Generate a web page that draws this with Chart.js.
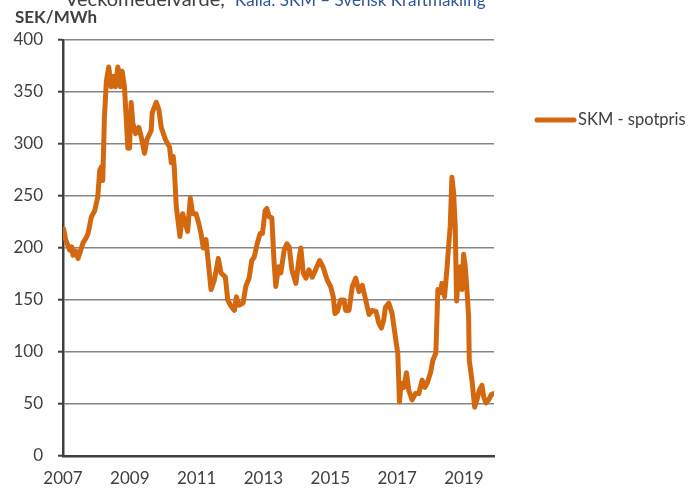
<!DOCTYPE html>
<html>
<head>
<meta charset="utf-8">
<script src="https://cdn.jsdelivr.net/npm/chart.js@4.4.0/dist/chart.umd.min.js"></script>
<style>
  html, body { margin: 0; padding: 0; background: #ffffff; }
  #wrap { position: relative; width: 699px; height: 490px; }
</style>
</head>
<body>
<div id="wrap"><canvas id="c" width="699" height="490"></canvas></div>
<script>
// Weekly average spot price, SEK/MWh (time as decimal year)
const weeks = [
  2007.02, 2007.08, 2007.20, 2007.26, 2007.30, 2007.38, 2007.45, 2007.52, 2007.60, 2007.68,
  2007.75, 2007.85, 2007.95, 2008.04, 2008.10, 2008.15, 2008.19, 2008.24, 2008.30, 2008.37,
  2008.44, 2008.52, 2008.57, 2008.64, 2008.69, 2008.72, 2008.77, 2008.84, 2008.89, 2008.94,
  2008.99, 2009.04, 2009.09, 2009.17, 2009.27, 2009.34, 2009.44, 2009.51, 2009.64, 2009.67,
  2009.79, 2009.87, 2009.94, 2010.07, 2010.19, 2010.24, 2010.30, 2010.33, 2010.39, 2010.50,
  2010.58, 2010.66, 2010.73, 2010.81, 2010.88, 2010.98, 2011.06, 2011.13, 2011.20, 2011.28,
  2011.38, 2011.43, 2011.53, 2011.65, 2011.73, 2011.86, 2011.93, 2012.03, 2012.13, 2012.19,
  2012.27, 2012.39, 2012.47, 2012.57, 2012.65, 2012.72, 2012.82, 2012.90, 2012.97, 2013.05,
  2013.10, 2013.17, 2013.25, 2013.32, 2013.37, 2013.45, 2013.52, 2013.62, 2013.70, 2013.77,
  2013.85, 2013.97, 2014.07, 2014.12, 2014.19, 2014.27, 2014.36, 2014.46, 2014.56, 2014.68,
  2014.78, 2014.91, 2015.01, 2015.09, 2015.14, 2015.21, 2015.31, 2015.41, 2015.46, 2015.56,
  2015.66, 2015.76, 2015.86, 2015.96, 2016.06, 2016.16, 2016.25, 2016.37, 2016.45, 2016.53,
  2016.60, 2016.65, 2016.75, 2016.85, 2016.95, 2017.02, 2017.07, 2017.12, 2017.20, 2017.28,
  2017.35, 2017.45, 2017.55, 2017.65, 2017.75, 2017.83, 2017.90, 2018.00, 2018.07, 2018.16,
  2018.22, 2018.30, 2018.34, 2018.42, 2018.49, 2018.54, 2018.59, 2018.64, 2018.69, 2018.74,
  2018.78, 2018.84, 2018.89, 2018.94, 2018.99, 2019.04, 2019.09, 2019.14, 2019.16, 2019.24,
  2019.32, 2019.39, 2019.46, 2019.54, 2019.59, 2019.66, 2019.74, 2019.82, 2019.89
];
const spotPrice = [
  218, 208, 198, 201, 193, 197, 190, 197, 205, 209,
  214, 230, 236, 249, 275, 278, 265, 326, 361, 374,
  355, 365, 355, 374, 368, 355, 370, 355, 326, 296,
  296, 340, 320, 310, 316, 307, 291, 304, 313, 330,
  340, 333, 316, 304, 297, 282, 288, 278, 240, 211,
  233, 224, 216, 248, 233, 233, 224, 214, 200, 208,
  176, 160, 169, 190, 176, 172, 150, 144, 140, 153,
  145, 147, 163, 171, 188, 191, 205, 214, 214, 236,
  238, 230, 229, 185, 163, 182, 176, 198, 204, 201,
  179, 166, 191, 200, 176, 171, 179, 172, 179, 188,
  182, 169, 163, 153, 137, 139, 150, 150, 140, 140,
  163, 171, 158, 164, 150, 136, 140, 139, 128, 123,
  131, 143, 147, 137, 114, 99, 52, 70, 66, 80,
  63, 54, 60, 60, 73, 66, 70, 80, 92, 99,
  160, 157, 166, 153, 179, 201, 221, 268, 253, 221,
  149, 176, 182, 160, 194, 182, 160, 134, 92, 73,
  47, 54, 63, 68, 57, 51, 54, 59, 60
];
const xTickYears = [2007, 2009, 2011, 2013, 2015, 2017, 2019];
const xRange = [2007, 2019.9];
const yRange = [0, 400];
const yStep = 50;

const seriesName = 'SKM - spotpris';
const unitLabel = 'SEK/MWh';
const headerMain = 'Veckomedelvärde,';
const headerSource = 'Källa: SKM – Svensk Kraftmäkling';

const FONT = 'Lato, "Open Sans", sans-serif';
const ORANGE = '#D4680F';
const DARK = '#404040';
const GRID = '#858585';

// Header text above the plot and the unit label
const headerPlugin = {
  id: 'header',
  afterDraw(chart) {
    const ctx = chart.ctx;
    ctx.save();
    ctx.textBaseline = 'alphabetic';
    ctx.textAlign = 'left';
    ctx.fillStyle = DARK;
    ctx.font = '20px ' + FONT;
    ctx.fillText(headerMain, 65, 6);
    ctx.fillStyle = '#2F5597';
    ctx.font = '17px ' + FONT;
    ctx.fillText(headerSource, 235, 6);
    ctx.fillStyle = DARK;
    ctx.font = 'bold 17px ' + FONT;
    ctx.fillText(unitLabel, 15, 23);
    ctx.restore();
  }
};

// Series key on the right side
const keyPlugin = {
  id: 'seriesKey',
  afterDraw(chart) {
    const ctx = chart.ctx;
    const ds = chart.data.datasets[0];
    ctx.save();
    ctx.strokeStyle = ds.borderColor;
    ctx.lineWidth = 5;
    ctx.lineCap = 'round';
    ctx.beginPath();
    ctx.moveTo(537, 120);
    ctx.lineTo(574, 120);
    ctx.stroke();
    ctx.fillStyle = DARK;
    ctx.font = '16.5px ' + FONT;
    ctx.textBaseline = 'middle';
    ctx.fillText(ds.label, 578, 120);
    ctx.restore();
  }
};

new Chart(document.getElementById('c'), {
  type: 'line',
  data: {
    datasets: [{
      label: seriesName,
      data: weeks.map((w, i) => ({ x: w, y: spotPrice[i] })),
      borderColor: ORANGE,
      backgroundColor: ORANGE,
      borderWidth: 5,
      borderJoinStyle: 'round',
      borderCapStyle: 'round',
      pointRadius: 0,
      tension: 0,
      fill: false
    }]
  },
  options: {
    responsive: false,
    animation: false,
    devicePixelRatio: 1,
    layout: { padding: { left: 0, top: 40, right: 205, bottom: 0 } },
    plugins: {
      legend: { display: false },
      tooltip: { enabled: false },
      title: { display: false }
    },
    scales: {
      x: {
        type: 'linear',
        min: xRange[0],
        max: xRange[1],
        afterBuildTicks: (scale) => { scale.ticks = xTickYears.map(v => ({ value: v })); },
        afterFit: (scale) => { scale.height = 34; },
        grid: { display: false, drawTicks: false },
        border: { display: true, color: DARK, width: 2.5 },
        ticks: {
          autoSkip: false,
          maxRotation: 0,
          padding: 12,
          color: DARK,
          font: { family: FONT, size: 17 },
          callback: (v) => String(v)
        }
      },
      y: {
        min: yRange[0],
        max: yRange[1],
        afterFit: (scale) => { scale.width = 63; },
        grid: {
          color: (c) => (c.tick && c.tick.value === 0 ? 'rgba(0,0,0,0)' : GRID),
          lineWidth: 1.4,
          drawTicks: true,
          tickLength: 5,
          tickColor: DARK,
          tickWidth: 2
        },
        border: { display: true, color: DARK, width: 2.5 },
        ticks: {
          stepSize: yStep,
          padding: 15,
          color: DARK,
          font: { family: FONT, size: 17 }
        }
      }
    }
  },
  plugins: [headerPlugin, keyPlugin]
});
</script>
</body>
</html>
